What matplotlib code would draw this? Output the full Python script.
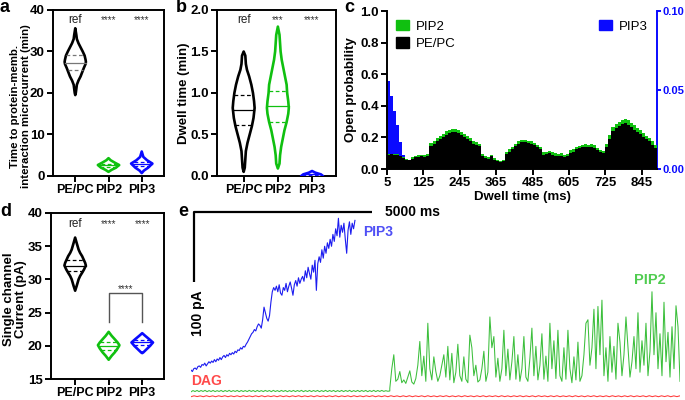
import numpy as np
import matplotlib
matplotlib.use('Agg')
import matplotlib.pyplot as plt
from matplotlib.patches import Patch
from matplotlib.ticker import FormatStrFormatter

plt.rcParams['font.family'] = ['Liberation Sans', 'DejaVu Sans']

# ---------------- data ----------------
groups = ['PE/PC', 'PIP2', 'PIP3']

# panel a: time to protein-membrane interaction (min) - violin profiles
a_pepc_lv = [19.5, 20, 21, 22, 23, 24, 25, 26, 27, 27.5, 28, 29, 30, 31, 32, 33, 34, 35.6]
a_pepc_rel = [0, 0.05, 0.1, 0.15, 0.3, 0.5, 0.65, 0.8, 0.97, 1.0, 0.97, 0.88, 0.7, 0.5, 0.3, 0.15, 0.1, 0]
a_pip2_lv = [1.0, 1.5, 2.0, 2.65, 3.2, 3.8, 4.3]
a_pip2_rel = [0, 0.3, 0.7, 1.0, 0.6, 0.2, 0]
a_pip3_lv = [0.7, 1.3, 2.0, 3.0, 3.8, 4.6, 5.9]
a_pip3_rel = [0, 0.2, 0.6, 1.0, 0.5, 0.15, 0]
a_stats = [(27.3, 25.5, 29.2), (2.6, 2.2, 3.0), (2.9, 2.4, 3.4)]
a_sig = ['ref', '****', '****']

# panel b: dwell time (min)
b_pepc_lv = [0.05, 0.1, 0.2, 0.3, 0.4, 0.5, 0.6, 0.7, 0.82, 0.9, 1.0, 1.1, 1.2, 1.28, 1.35, 1.45, 1.5]
b_pepc_rel = [0, 0.1, 0.15, 0.2, 0.35, 0.55, 0.75, 0.9, 1.0, 0.95, 0.85, 0.7, 0.5, 0.3, 0.2, 0.15, 0]
b_pip2_lv = [0.09, 0.15, 0.25, 0.35, 0.45, 0.55, 0.65, 0.75, 0.82, 0.9, 1.0, 1.1, 1.2, 1.3, 1.4, 1.5, 1.7, 1.8]
b_pip2_rel = [0, 0.15, 0.2, 0.3, 0.45, 0.6, 0.8, 0.95, 1.0, 0.95, 0.85, 0.8, 0.65, 0.5, 0.35, 0.25, 0.15, 0]
b_pip3_lv = [-0.02, 0.0, 0.02, 0.04, 0.06]
b_pip3_rel = [1.0, 1.0, 0.8, 0.3, 0]
b_stats = [(0.80, 0.61, 0.98), (0.84, 0.655, 1.03), (0.02, 0.01, 0.03)]
b_sig = ['ref', '***', '****']

# panel d: single channel current (pA)
d_pepc_lv = [28.3, 29, 29.5, 30, 30.5, 31, 31.5, 32.1, 32.5, 33, 33.5, 34, 34.5, 35, 35.5, 36.3]
d_pepc_rel = [0, 0.14, 0.23, 0.32, 0.46, 0.65, 0.83, 1.0, 0.93, 0.79, 0.65, 0.46, 0.32, 0.23, 0.14, 0]
d_pip2_lv = [17.9, 18.5, 19, 19.6, 20.1, 20.5, 21, 21.5, 22.1]
d_pip2_rel = [0, 0.28, 0.56, 0.83, 1.0, 0.83, 0.56, 0.28, 0]
d_pip3_lv = [18.9, 19, 19.5, 20, 20.5, 21, 21.5, 21.9]
d_pip3_rel = [0, 0.1, 0.42, 0.74, 1.0, 0.65, 0.28, 0]
d_stats = [(32.0, 31.2, 32.9), (20.0, 19.4, 20.5), (20.5, 20.1, 20.9)]
d_sig = ['ref', '****', '****']
d_bracket_sig = '****'

# panel c: open probability vs dwell time (10 ms bins starting at 5 ms)
c_bin_start = np.arange(5, 895, 10)
c_bin_end = 895
pepc_po = [0.09, 0.092, 0.09, 0.088, 0.08, 0.07, 0.06, 0.055, 0.065, 0.075,
           0.078, 0.08, 0.078, 0.085, 0.145, 0.16, 0.175, 0.19, 0.2, 0.215,
           0.228, 0.235, 0.232, 0.225, 0.215, 0.2, 0.19, 0.175, 0.16, 0.15,
           0.145, 0.085, 0.07, 0.065, 0.08, 0.06, 0.05, 0.045, 0.05, 0.095,
           0.11, 0.125, 0.145, 0.16, 0.168, 0.17, 0.165, 0.16, 0.15, 0.14,
           0.125, 0.09, 0.095, 0.1, 0.09, 0.085, 0.08, 0.085, 0.075, 0.08,
           0.1, 0.11, 0.125, 0.13, 0.138, 0.14, 0.138, 0.14, 0.135, 0.12,
           0.108, 0.1, 0.14, 0.19, 0.24, 0.26, 0.275, 0.285, 0.29, 0.28,
           0.265, 0.25, 0.235, 0.22, 0.205, 0.19, 0.175, 0.155, 0.13]
pip2_po = [0.095, 0.097, 0.095, 0.092, 0.085, 0.075, 0.065, 0.06, 0.075, 0.085,
           0.088, 0.09, 0.088, 0.095, 0.165, 0.18, 0.195, 0.21, 0.22, 0.238,
           0.25, 0.255, 0.252, 0.245, 0.235, 0.222, 0.21, 0.195, 0.18, 0.168,
           0.16, 0.095, 0.08, 0.075, 0.09, 0.07, 0.058, 0.052, 0.058, 0.11,
           0.125, 0.14, 0.16, 0.175, 0.183, 0.185, 0.18, 0.175, 0.165, 0.155,
           0.14, 0.105, 0.11, 0.115, 0.105, 0.1, 0.093, 0.1, 0.088, 0.095,
           0.118, 0.128, 0.14, 0.148, 0.155, 0.158, 0.155, 0.157, 0.152, 0.135,
           0.122, 0.113, 0.16, 0.215, 0.265, 0.285, 0.3, 0.31, 0.318, 0.308,
           0.292, 0.276, 0.26, 0.245, 0.228, 0.212, 0.195, 0.175, 0.15]
pip3_bin_start = [5, 15, 25, 35, 45, 55]
pip3_bin_end = 65
pip3_po = [0.0558, 0.046, 0.037, 0.0277, 0.0173, 0.009]
c_xticks = [5, 125, 245, 365, 485, 605, 725, 845]

# panel e: current traces (pA)
pip3_duration_ms = 4610
pip3_pA = [38, 36, 40, 41, 39, 43, 44, 42, 46, 45, 48, 44, 47, 50, 48, 51, 49, 53, 50, 54, 52,
           56, 53, 57, 59, 56, 60, 58, 62, 60, 63, 61, 65, 63, 67, 66, 70, 68, 72, 71, 75,
           78, 82, 86, 90, 92, 96, 94, 100, 104, 102,
           98, 110, 128, 120, 112, 108, 116, 135, 150, 156,
           152, 158, 150, 160, 148, 145, 156, 152, 162, 150, 158, 164, 155, 145, 160, 166, 158, 170, 162, 168,
           172, 165, 180, 170, 185, 176, 168, 188, 178, 195, 152, 190, 200, 192, 210, 198, 215, 205, 220, 212,
           225, 215, 232, 222, 240, 230, 255, 228, 245, 235, 248, 225, 205, 238, 250, 232, 248, 240, 252]
quiet_end_ms = 5590
trace_end_ms = 13750
pip2_quiet_pA = [7.0, 8.8, 7.4, 9.0, 7.3, 8.9, 7.5, 9.1, 7.2, 8.8, 7.4, 9.0, 7.3, 8.7, 7.5, 9.0, 7.2, 8.9, 7.4, 9.1,
                 7.3, 8.8, 7.5, 9.0, 7.2, 8.9, 7.4, 8.8, 7.3, 9.1, 7.5, 8.9, 7.2, 9.0, 7.4, 8.8, 7.3, 9.0, 7.5, 8.9,
                 7.2, 9.1, 7.4, 8.8, 7.3, 9.0, 7.5, 8.9, 7.2, 8.8, 7.4, 9.0, 7.3, 8.9, 7.5, 9.1, 7.2, 8.8, 7.4, 9.0,
                 7.3, 8.9, 7.5, 9.0, 7.2, 8.8, 7.4, 9.1, 7.3, 8.9, 7.5, 9.0, 7.2, 8.8, 7.4, 9.0, 7.3, 8.9, 7.5, 9.1,
                 7.2, 8.8, 7.4, 9.0, 7.3, 8.9, 7.5, 9.0, 7.2, 8.8, 7.4, 9.1, 7.3, 8.9, 7.5, 9.0, 7.6, 8.6, 7.8, 8.2]
pip2_active_pA = [12, 40, 60, 22, 25, 36, 20, 24, 19, 28, 37, 21, 18, 26, 45, 79, 30, 58, 22, 105,
                  40, 24, 57, 36, 22, 30, 45, 60, 28, 72, 24, 62, 20, 35, 75, 30, 22, 57, 25, 20,
                  88, 70, 30, 45, 21, 24, 40, 65, 22, 35, 114, 70, 86, 28, 55, 22, 40, 95, 30, 68,
                  24, 50, 86, 25, 60, 22, 40, 86, 28, 22, 55, 98, 30, 72, 24, 45, 90, 25, 58, 22,
                  105, 40, 80, 26, 95, 30, 22, 70, 25, 95, 40, 20, 57, 24, 78, 22, 30, 60, 105, 110,
                  45, 70, 125, 40, 129, 60, 138, 30, 70, 22, 86, 35, 72, 25, 105, 78, 30, 60, 114, 72,
                  28, 50, 86, 40, 120, 35, 80, 45, 105, 30, 65, 150, 60, 120, 40, 90, 30, 135, 50, 92,
                  28, 100, 40, 130, 100, 22]
dag_pA = [0.0, 1.3, 0.2, 1.2, 0.0, 1.4, 0.1, 1.2, 0.0, 1.3, 0.2, 1.4, 0.0, 1.2, 0.1, 1.3, 0.0, 1.4, 0.2, 1.2,
          0.0, 1.3, 0.1, 1.4, 0.0, 1.2, 0.2, 1.3, 0.0, 1.4, 0.1, 1.2, 0.0, 1.3, 0.2, 1.4, 0.0, 1.2, 0.1, 1.3,
          0.0, 1.4, 0.2, 1.2, 0.0, 1.3, 0.1, 1.4, 0.0, 1.2, 0.2, 1.3, 0.0, 1.4, 0.1, 1.2, 0.0, 1.3, 0.2, 1.4,
          0.0, 1.2, 0.1, 1.3, 0.0, 1.4, 0.2, 1.2, 0.0, 1.3, 0.1, 1.4, 0.0, 1.2, 0.2, 1.3, 0.0, 1.4, 0.1, 1.2,
          0.0, 1.3, 0.2, 1.4, 0.0, 1.2, 0.1, 1.3, 0.0, 1.4, 0.2, 1.2, 0.0, 1.3, 0.1, 1.4, 0.0, 1.2, 0.2, 1.3,
          0.0, 1.4, 0.1, 1.2, 0.0, 1.3, 0.2, 1.4, 0.0, 1.2, 0.1, 1.3, 0.0, 1.4, 0.2, 1.2, 0.0, 1.3, 0.1, 1.4,
          0.0, 1.2, 0.2, 1.3, 0.0, 1.4, 0.1, 1.2, 0.0, 1.3, 0.2, 1.4, 0.0, 1.2, 0.1, 1.3, 0.0, 1.4, 0.2, 1.2,
          0.0, 1.3, 0.1, 1.4, 0.0, 1.2, 0.2, 1.3, 0.0, 1.4, 0.1, 1.2, 0.0, 1.3, 0.2, 1.4, 0.0, 1.2, 0.1, 1.3]
scale_ms = 5000
scale_pA = 100

# ---------------- style ----------------
BLACK = '#000000'
GREEN = '#10c010'
BLUE = '#0a0aff'
TR_GREEN = '#3cbf3c'
TR_BLUE = '#1c1cf0'
TR_RED = '#ff3838'
HALF = 0.32
W, H = 685, 400
NUM_FS = 9.5
CAT_FS = 9

fig = plt.figure(figsize=(6.85, 4.0), dpi=100)


def px_axes(l, t, r, b):
    return fig.add_axes([l / W, 1 - b / H, (r - l) / W, (b - t) / H])


def style_box(ax):
    for s in ax.spines.values():
        s.set_linewidth(1.4)
    ax.tick_params(direction='out', length=4, width=1.4, labelsize=NUM_FS, pad=2)
    for lab in ax.get_xticklabels() + ax.get_yticklabels():
        lab.set_fontweight('bold')


def violin(ax, x0, levels, rel, stats, color, inner=None):
    levels = np.asarray(levels, float)
    w = np.asarray(rel, float) * HALF
    xs = np.r_[x0 - w, (x0 + w)[::-1]]
    ys = np.r_[levels, levels[::-1]]
    ax.fill(xs, ys, facecolor='white', edgecolor=color, lw=1.9, joinstyle='round', zorder=3)
    med, q1, q3 = stats
    ic = inner or color
    for v, ls in ((med, '-'), (q1, (0, (3, 2))), (q3, (0, (3, 2)))):
        hw = np.interp(v, levels, w)
        ax.plot([x0 - hw, x0 + hw], [v, v], color=ic, lw=0.9, ls=ls, zorder=4)


def sig_text(ax, y, labels):
    for i, s in enumerate(labels):
        if s == 'ref':
            ax.text(i, y, s, ha='center', va='center', fontsize=8.5, color='#222222')
        else:
            ax.text(i, y, s, ha='center', va='center', fontsize=7, color='#333333')


def cat_axes(ax, ylim, yticks):
    ax.set_xlim(-0.67, 2.67)
    ax.set_ylim(*ylim)
    ax.set_yticks(yticks)
    ax.set_xticks(range(3))
    ax.set_xticklabels(groups)
    style_box(ax)
    for lab in ax.get_xticklabels():
        lab.set_fontsize(CAT_FS)


# ---------------- panel a ----------------
ax_a = px_axes(53, 10, 164, 176)
violin(ax_a, 0, a_pepc_lv, a_pepc_rel, a_stats[0], BLACK, inner='#777777')
violin(ax_a, 1, a_pip2_lv, a_pip2_rel, a_stats[1], GREEN)
violin(ax_a, 2, a_pip3_lv, a_pip3_rel, a_stats[2], BLUE)
cat_axes(ax_a, (0, 40), [0, 10, 20, 30, 40])
sig_text(ax_a, 37.6, a_sig)
ax_a.set_ylabel('Time to protein-memb.\ninteraction microcurrent (min)', fontsize=8.2,
                fontweight='bold', linespacing=1.1)
ax_a.yaxis.set_label_coords(-0.20, 0.42)

# ---------------- panel b ----------------
ax_b = px_axes(217, 10, 336, 176)
violin(ax_b, 0, b_pepc_lv, b_pepc_rel, b_stats[0], BLACK)
violin(ax_b, 1, b_pip2_lv, b_pip2_rel, b_stats[1], GREEN)
violin(ax_b, 2, b_pip3_lv, b_pip3_rel, b_stats[2], BLUE)
cat_axes(ax_b, (0, 2.0), [0, 0.5, 1.0, 1.5, 2.0])
ax_b.set_xlim(-0.78, 2.7)
ax_b.yaxis.set_major_formatter(FormatStrFormatter('%.1f'))
for lab in ax_b.get_yticklabels():
    lab.set_fontweight('bold')
sig_text(ax_b, 1.88, b_sig)
ax_b.set_ylabel('Dwell time (min)', fontsize=9.5, fontweight='bold')
ax_b.yaxis.set_label_coords(-0.23, 0.5)

# ---------------- panel c ----------------
ax_c = px_axes(387, 11, 657, 169)
tw = ax_c.twinx()
xe = np.r_[c_bin_start, c_bin_end]
ax_c.fill_between(xe, np.r_[pip2_po, pip2_po[-1]], step='post', color=GREEN, lw=0, zorder=2)
ax_c.fill_between(xe, np.r_[pepc_po, pepc_po[-1]], step='post', color=BLACK, lw=0, zorder=3)
tw.fill_between(np.r_[pip3_bin_start, pip3_bin_end], np.r_[pip3_po, pip3_po[-1]],
                step='post', color=BLUE, lw=0)
ax_c.set_zorder(tw.get_zorder() + 1)
ax_c.patch.set_visible(False)
ax_c.set_xlim(5, c_bin_end)
ax_c.set_ylim(0, 1.0)
ax_c.set_xticks(c_xticks)
ax_c.set_yticks([0, 0.2, 0.4, 0.6, 0.8, 1.0])
ax_c.yaxis.set_major_formatter(FormatStrFormatter('%.1f'))
tw.set_ylim(0, 0.10)
tw.set_yticks([0, 0.05, 0.10])
tw.yaxis.set_major_formatter(FormatStrFormatter('%.2f'))
ax_c.spines['top'].set_visible(False)
ax_c.spines['right'].set_visible(False)
for s in ('top', 'left', 'bottom'):
    tw.spines[s].set_visible(False)
style_box(ax_c)
for s in tw.spines.values():
    s.set_linewidth(1.4)
tw.spines['right'].set_color(BLUE)
tw.tick_params(axis='y', direction='out', length=3, width=1.4, colors=BLUE, labelsize=8, pad=1)
for lab in tw.get_yticklabels():
    lab.set_fontweight('bold')
ax_c.set_ylabel('Open probability', fontsize=9.5, fontweight='bold', labelpad=2)
ax_c.set_xlabel('Dwell time (ms)', fontsize=9.5, fontweight='bold', labelpad=1)
ax_c.legend(handles=[Patch(color=GREEN, label='PIP2'), Patch(color=BLACK, label='PE/PC')],
            loc='upper left', frameon=False, fontsize=9.5, handlelength=1.0,
            handleheight=0.8, handletextpad=0.5, borderaxespad=0.3, labelspacing=0.35)
tw.legend(handles=[Patch(color=BLUE, label='PIP3')], loc='upper right', frameon=False,
          fontsize=9.5, handlelength=1.0, handleheight=0.8, handletextpad=0.5,
          borderaxespad=0.3)

# ---------------- panel d ----------------
ax_d = px_axes(51, 213, 164, 379)
violin(ax_d, 0, d_pepc_lv, d_pepc_rel, d_stats[0], BLACK)
violin(ax_d, 1, d_pip2_lv, d_pip2_rel, d_stats[1], GREEN)
violin(ax_d, 2, d_pip3_lv, d_pip3_rel, d_stats[2], BLUE)
cat_axes(ax_d, (15, 40), [15, 20, 25, 30, 35, 40])
ax_d.set_xlim(-0.72, 2.65)
sig_text(ax_d, 38.4, d_sig)
ax_d.plot([1, 1, 2, 2], [23.6, 27.9, 27.9, 23.6], color='#555555', lw=1.0)
ax_d.text(1.5, 28.6, d_bracket_sig, ha='center', va='center', fontsize=7, color='#333333')
ax_d.set_ylabel('Single channel\nCurrent (pA)', fontsize=9.5, fontweight='bold', linespacing=1.0)
ax_d.yaxis.set_label_coords(-0.21, 0.48)

# ---------------- panel e ----------------
ax_e = px_axes(191, 205, 680, 400)
ax_e.set_xlim(0, trace_end_ms)
ax_e.set_ylim(-4.7, 274)
ax_e.axis('off')
ax_e.plot(np.linspace(0, pip3_duration_ms, len(pip3_pA)), pip3_pA, color=TR_BLUE, lw=0.8)
t_pip2 = np.r_[np.linspace(0, quiet_end_ms, len(pip2_quiet_pA)),
               np.linspace(quiet_end_ms, trace_end_ms, len(pip2_active_pA))]
ax_e.plot(t_pip2, np.r_[pip2_quiet_pA, pip2_active_pA], color=TR_GREEN, lw=0.75)
ax_e.plot(np.linspace(0, trace_end_ms, len(dag_pA)), dag_pA, color=TR_RED, lw=0.75)
sb_x, sb_y = 84, 264.6
ax_e.plot([sb_x, sb_x, sb_x + scale_ms], [sb_y - scale_pA, sb_y, sb_y], color='k', lw=1.6,
          clip_on=False, solid_capstyle='butt')
ax_e.text(5450, sb_y, f'{scale_ms} ms', ha='left', va='center', fontsize=10, fontweight='bold')
ax_e.text(sb_x + 100, sb_y - scale_pA - 12, f'{scale_pA} pA', rotation=90, ha='center',
          va='top', fontsize=10, fontweight='bold')
ax_e.text(4830, 235, 'PIP3', color='#4f4ff5', fontsize=10, fontweight='bold', va='center')
ax_e.text(12450, 167, 'PIP2', color='#50cc50', fontsize=10.5, fontweight='bold', va='center')
ax_e.text(0, 23, 'DAG', color='#ff4a4a', fontsize=10, fontweight='bold', va='center')

# ---------------- panel letters ----------------
for lt, x, y in (('a', 0, -1), ('b', 176, -1), ('c', 344, -1), ('d', 0, 203), ('e', 178, 203)):
    fig.text(x / W, 1 - y / H, lt, fontsize=13, fontweight='bold', va='top', ha='left')

fig.savefig('out.png', dpi=100)
